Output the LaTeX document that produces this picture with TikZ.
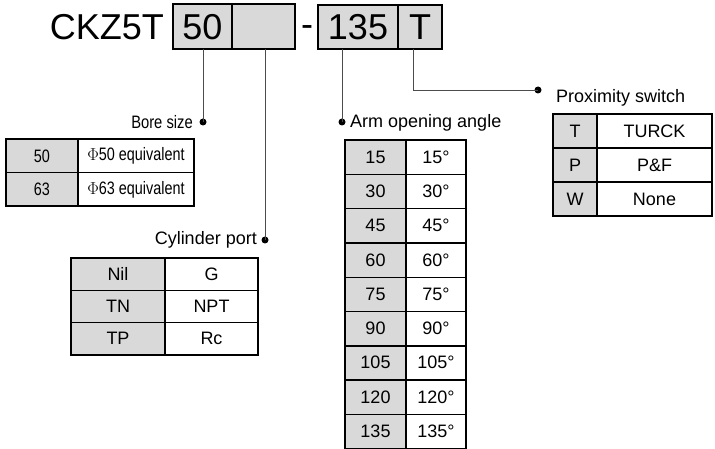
\documentclass[tikz,border=0pt]{standalone}
\usepackage{fontspec}
\setmainfont{Liberation Sans}
\begin{document}
\begin{tikzpicture}[x=1pt,y=-1pt,
  gcell/.style={draw=black,line width=1.4pt,fill=gray!30},
  wcell/.style={draw=black,line width=1.4pt,fill=white},
  lead/.style={draw=black!70,line width=0.8pt},
  dot/.style={circle,fill=black,inner sep=0pt,minimum size=7pt},
  lbl/.style={font=\fontsize{18}{20}\selectfont,inner sep=0pt},
  txt/.style={font=\fontsize{18}{20}\selectfont},
  ntxt/.style={font=\fontsize{18}{20}\selectfont\addfontfeature{FakeStretch=0.8}},
  big/.style={font=\fontsize{36}{40}\selectfont}]
\useasboundingbox (0,0) rectangle (715,449);
% header
\node[anchor=east,inner sep=0pt,big] (ckz) at (164,27) {CKZ5T};
\path[gcell] (173,4) rectangle (232,49);
\path[gcell] (232,4) rectangle (295,49);
\path[gcell] (318,5) rectangle (398,49);
\path[gcell] (398,5) rectangle (442,49);
\node[big] (h50) at (202.5,27) {50};
\node[big] (dash) at (307,31) {-};
\node[big] (h135) at (358,27) {135};
\node[big] (hT) at (420,27) {T};
% dots and leads
\node[dot] (d1) at (203,122) {};
\node[dot] (d2) at (265,240) {};
\node[dot] (d3) at (342,122) {};
\node[dot] (d4) at (538,90) {};
\draw[lead] (203,49) -- (d1.center);
\draw[lead] (265,49) -- (d2.center);
\draw[lead] (342,49) -- (d3.center);
\draw[lead] (413,49) |- (d4.center);
\node[lbl,anchor=east,font=\fontsize{18}{20}\selectfont\addfontfeature{FakeStretch=0.82}] (l1) at (193,122) {Bore size};
\node[lbl,anchor=east] (l2) at (257,240) {Cylinder port};
\node[lbl,anchor=west] (l3) at (350,123) {Arm opening angle};
\node[lbl,anchor=west] (l4) at (556,98) {Proximity switch};
% bore table
\foreach \a/\b [count=\i from 0] in {50/{$\Phi$50 equivalent},63/{$\Phi$63 equivalent}}{
  \path[gcell] (6,139+33.5*\i) rectangle (78,172.5+33.5*\i);
  \path[wcell] (78,139+33.5*\i) rectangle (194,172.5+33.5*\i);
  \node[ntxt] at (42,156+33.5*\i) {\a};
  \node[ntxt] at (136,156+33.5*\i) {\b};
}
% cylinder port table
\foreach \a/\b [count=\i from 0] in {Nil/G,TN/NPT,TP/Rc}{
  \path[gcell] (71,258+32.3*\i) rectangle (165,290.3+32.3*\i);
  \path[wcell] (165,258+32.3*\i) rectangle (258,290.3+32.3*\i);
  \node[txt] at (118,274+32.3*\i) {\a};
  \node[txt] at (211.5,274+32.3*\i) {\b};
}
% angle table
\foreach \a [count=\i from 0] in {15,30,45,60,75,90,105,120,135}{
  \path[gcell] (345,140+34.3*\i) rectangle (406,174.3+34.3*\i);
  \path[wcell] (406,140+34.3*\i) rectangle (466,174.3+34.3*\i);
  \node[txt] at (375.5,157+34.3*\i) {\a};
  \node[txt] at (436,157+34.3*\i) {\a°};
}
% proximity table
\foreach \a/\b [count=\i from 0] in {T/TURCK,P/P\&F,W/None}{
  \path[gcell] (553,114+34*\i) rectangle (597,148+34*\i);
  \path[wcell] (597,114+34*\i) rectangle (712,148+34*\i);
  \node[txt] at (575,131+34*\i) {\a};
  \node[txt] at (654.5,131+34*\i) {\b};
}
\end{tikzpicture}
\end{document}
